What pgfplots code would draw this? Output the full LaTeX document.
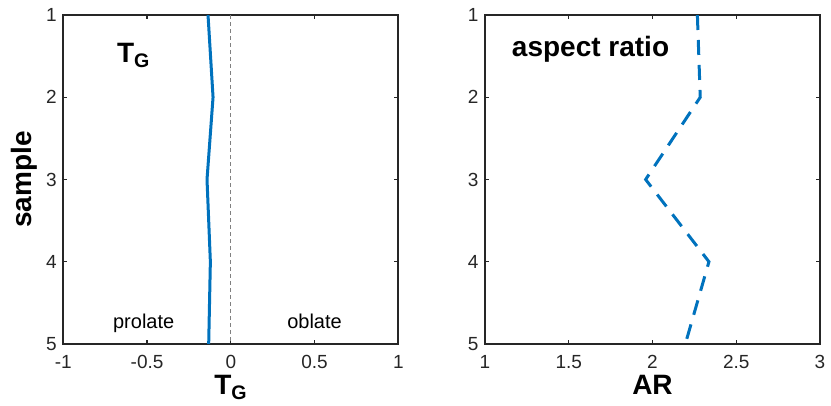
\documentclass[border=0pt]{standalone}
\usepackage{pgfplots}
\pgfplotsset{compat=1.18}
\usepackage{fontspec}
\setmainfont{Liberation Sans}
\definecolor{mblue}{HTML}{0072BD}
\definecolor{axgray}{HTML}{262626}
\pgfplotsset{mstyle/.style={
  scale only axis, width=335pt, height=329pt,
  y dir=reverse, ymin=1, ymax=5, ytick={1,2,3,4,5},
  tick align=inside, tick pos=both, ticklabel pos=left,
  axis line style={axgray, line width=1.7pt},
  major tick style={axgray, line width=1.2pt},
  major tick length=4pt,
  ticklabel style={font=\fontsize{19}{19}\selectfont, text=axgray},
  xticklabel style={yshift=-8pt},
  yticklabel style={xshift=-3pt},
  /pgf/number format/assume math mode=true,
  xlabel style={at={(axis description cs:0.5,-0.152)}, anchor=base, font=\fontsize{28}{28}\selectfont\bfseries},
  ylabel style={at={(axis description cs:-0.094,0.5)}, anchor=base, rotate=0, font=\fontsize{28}{28}\selectfont\bfseries},
}}
\begin{document}
\begin{tikzpicture}
\useasboundingbox (0pt,0pt) rectangle (831pt,405pt);
\begin{axis}[mstyle, at={(63.3pt,61pt)}, anchor=south west,
  xmin=-1, xmax=1, xtick={-1,-0.5,0,0.5,1},
  xlabel={T\textsubscript{G}}, ylabel={sample}]
\addplot[gray, line width=0.8pt, dash pattern=on 4pt off 3pt] coordinates {(0,1) (0,5)};
\addplot[mblue, line width=3pt] coordinates {(-0.136,1) (-0.106,2) (-0.142,3) (-0.122,4) (-0.132,5)};
\node[anchor=base west, font=\fontsize{28}{28}\selectfont\bfseries] at (axis cs:-0.70,1.58) {T\textsubscript{G}};
\node[anchor=base, font=\fontsize{20}{20}\selectfont] at (axis cs:-0.52,4.806) {prolate};
\node[anchor=base, font=\fontsize{20}{20}\selectfont] at (axis cs:0.5,4.806) {oblate};
\end{axis}
\begin{axis}[mstyle, at={(485pt,61pt)}, anchor=south west,
  xmin=1, xmax=3, xtick={1,1.5,2,2.5,3},
  xlabel={AR}]
\addplot[mblue, line width=3pt, dash pattern=on 15pt off 10pt] coordinates {(2.268,1) (2.285,2) (1.959,3) (2.337,4) (2.196,5)};
\node[anchor=base west, font=\fontsize{28}{28}\selectfont\bfseries] at (axis cs:1.14,1.507) {aspect ratio};
\end{axis}
\end{tikzpicture}
\end{document}
